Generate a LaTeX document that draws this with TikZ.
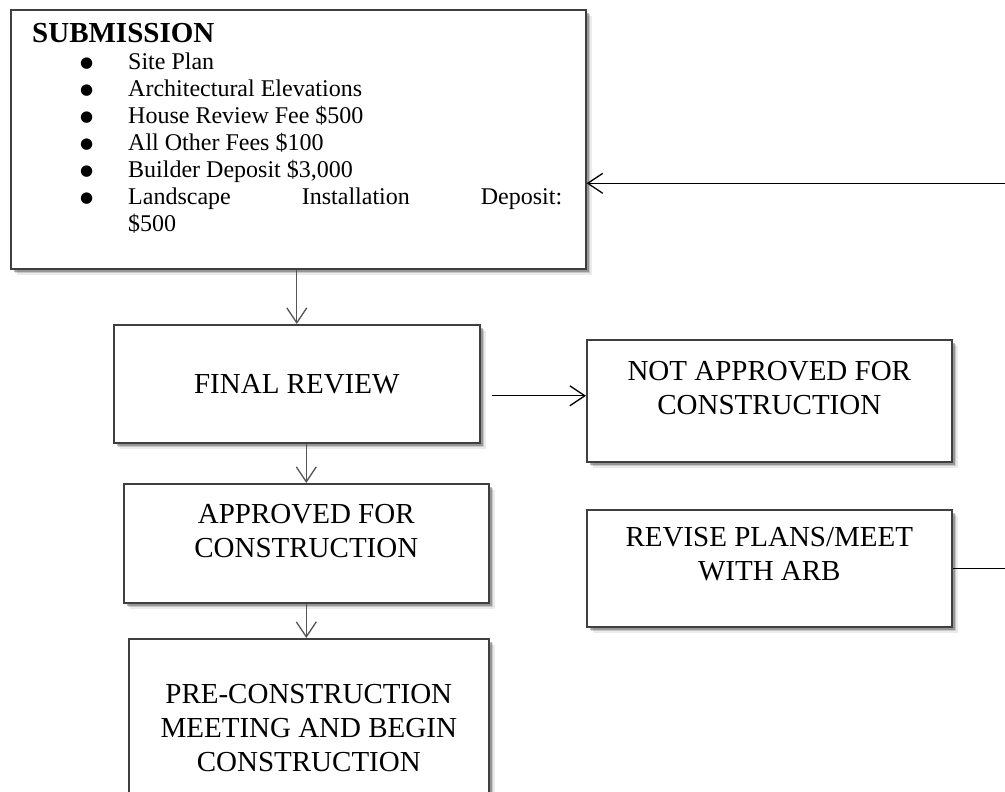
\documentclass[tikz,border=0pt]{standalone}
\usepackage{fontspec}
\setmainfont{Liberation Serif}
\newfontfamily\dotfont{DejaVu Sans}
\usetikzlibrary{arrows.meta, shadows}
\definecolor{edgecol}{HTML}{3F3F3F}
\definecolor{linecol}{HTML}{555555}

\newcommand{\itm}[1]{\makebox[96pt][l]{\hspace{48pt}\raisebox{2pt}{\dotfont\fontsize{15}{27}\selectfont ●}}#1}

\begin{document}
\begin{tikzpicture}[x=1pt, y=-1pt,
    every node/.style={font=\fontsize{29}{34}\selectfont},
    card/.style={draw=edgecol, line width=1.6pt, fill=white, rectangle, inner sep=0pt,
        drop shadow={shadow xshift=6pt, shadow yshift=-6pt, fill=black, opacity=0.08},
        drop shadow={shadow xshift=4.5pt, shadow yshift=-4.5pt, fill=black, opacity=0.14},
        drop shadow={shadow xshift=3pt, shadow yshift=-3pt, fill=black, opacity=0.25}},
    lbl/.style={align=center, inner sep=0pt},
    listtext/.style={align=left, inner sep=0pt, font=\fontsize{24}{27}\selectfont},
    down/.style={draw=linecol, line width=1.3pt, -{Straight Barb[length=15pt, width=20pt]}},
    side/.style={draw=black, line width=1.3pt, -{Straight Barb[length=15pt, width=20pt]}},
]
\path[use as bounding box, fill=white] (0,0) rectangle (1005,792);

% submission box and its list
\node[card, minimum width=575pt, minimum height=259pt, anchor=north west] (sub) at (10,9) {};
\node[listtext, anchor=north west] (sublist) at (32,23) {%
    {\fontsize{29}{34}\selectfont\bfseries SUBMISSION}\\
    \itm{Site Plan}\\
    \itm{Architectural Elevations}\\
    \itm{House Review Fee \$500}\\
    \itm{All Other Fees \$100}\\
    \itm{Builder Deposit \$3,000}\\
    \itm{\makebox[434pt][s]{Landscape Installation Deposit:}}\\
    \makebox[96pt]{}\$500};

% left column
\node[card, minimum width=366pt, minimum height=118pt, anchor=north west] (fin) at (113,324) {FINAL REVIEW};
\node[card, minimum width=365pt, minimum height=119pt, anchor=north west] (appr) at (123,483) {};
\node[lbl] (apprtxt) at ([yshift=12pt]appr.center) {APPROVED FOR\\CONSTRUCTION};
\node[card, minimum width=360pt, minimum height=190pt, anchor=north west] (pre) at (128,638) {};
\node[lbl] (pretxt) at ([yshift=6pt]pre.center) {PRE-CONSTRUCTION\\MEETING AND BEGIN\\CONSTRUCTION};

% right column
\node[card, minimum width=365pt, minimum height=122pt, anchor=north west] (notap) at (586,339) {};
\node[lbl] (notaptxt) at ([yshift=13pt]notap.center) {NOT APPROVED FOR\\CONSTRUCTION};
\node[card, minimum width=365pt, minimum height=117pt, anchor=north west] (rev) at (586,509) {};
\node[lbl] (revtxt) at ([yshift=14pt]rev.center) {REVISE PLANS/MEET\\WITH ARB};

% connectors
\draw[down] (fin.north |- sub.south) -- (fin.north);
\draw[down] (appr.north |- fin.south) -- (appr.north);
\draw[down] (appr.south) -- (appr.south |- pre.north);
\coordinate (finout) at ([xshift=11pt, yshift=-12pt]fin.east);
\draw[side] (finout) -- (finout -| notap.west);
\coordinate (subin) at ([yshift=-44pt]sub.east);
\draw[side] (rev.east) -- ++(60,0) |- (subin);
\end{tikzpicture}
\end{document}
